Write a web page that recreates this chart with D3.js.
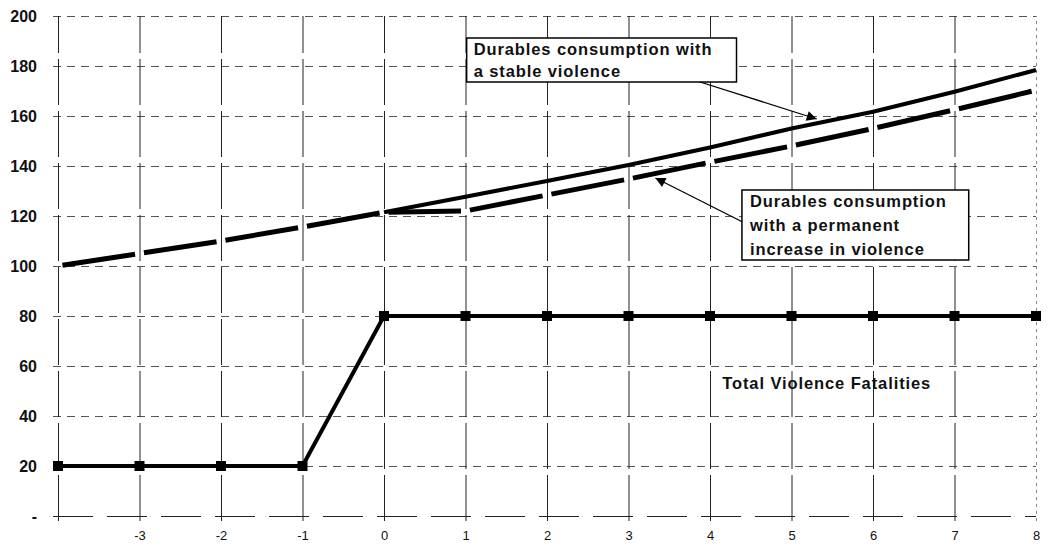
<!DOCTYPE html>
<html lang="en">
<head>
<meta charset="UTF-8">
<title>Durables consumption and violence</title>
<script src="https://d3js.org/d3.v7.min.js"></script>
<style>
    body { margin: 0; background: #fff; font-family: "Liberation Sans", Arial, sans-serif; }
    .ylab text { font-weight: bold; font-size: 16px; fill: #111; }
    .xlab text { font-size: 13px; fill: #111; }
    .note { font-weight: bold; font-size: 16.5px; letter-spacing: 0.9px; fill: #111; }
</style>
</head>
<body>
<div id="chart"></div>
<script>
// periods around the shock
const years = [-4, -3, -2, -1, 0, 1, 2, 3, 4, 5, 6, 7, 8];
// total violence fatalities
const fatalities = [20, 20, 20, 20, 80, 80, 80, 80, 80, 80, 80, 80, 80];
// durables consumption, stable violence (starts at 0)
const stable = [null, null, null, null, 121.5, 127.7, 134, 140.4, 147.4, 155, 161.7, 169.7, 178.4];
// durables consumption, permanent increase in violence
const permanent = [100, 105, 110, 115.6, 121.5, 122, 128.4, 134.8, 141.5, 148, 155, 162.5, 170.3];
const yTicks = [0, 20, 40, 60, 80, 100, 120, 140, 160, 180, 200];

// annotations, in data units
const notes = [
    { lines: ["Durables consumption with", "a stable violence"], x: 1.1, y: 184.4, step: 22, padR: 24, from: [3.84, 174], to: [5.31, 158.8] },
    { lines: ["Durables consumption", "with a permanent", "increase in violence"], x: 4.49, y: 123.6, step: 24, padR: 22, from: [4.4, 117.6], to: [3.33, 135.2] }
];
const lineLabel = { text: "Total Violence Fatalities", x: 4.15, y: 50.8 };

const W = 1055, H = 559;
const margin = { top: 16, right: 19, bottom: 43, left: 58 };

const x = d3.scaleLinear().domain([-4, 8]).range([margin.left, W - margin.right]);
const y = d3.scaleLinear().domain([0, 200]).range([H - margin.bottom, margin.top]);

const svg = d3.select("#chart").append("svg")
    .attr("width", W).attr("height", H);

// horizontal grid + y labels
svg.append("g")
    .attr("class", "ylab")
    .attr("transform", `translate(${margin.left - 5},0)`)
    .call(d3.axisLeft(y).tickValues(yTicks).tickSize(-(W - margin.left - margin.right + 5)).tickPadding(16)
        .tickFormat(d => d === 0 ? "-" : d))
    .call(g => g.select(".domain").remove())
    .call(g => g.selectAll(".tick line")
        .attr("stroke", d => d === 0 ? "#222" : "#555")
        .attr("stroke-dasharray", d => d === 0 ? "40 14" : "8 6"));

// vertical grid + x labels
svg.append("g")
    .attr("class", "xlab")
    .attr("transform", `translate(0,${H - margin.bottom + 5})`)
    .call(d3.axisBottom(x).tickValues(years).tickSize(-(H - margin.top - margin.bottom + 5)).tickPadding(10)
        .tickFormat(d => d === -4 ? "" : d))
    .call(g => g.select(".domain").remove())
    .call(g => g.selectAll(".tick line")
        .attr("stroke", d => d === 8 ? "#888" : "#222")
        .attr("stroke-dasharray", d => d === 8 ? "3 4" : "46 6"));

// permanent increase: long dashes broken at every point
const pts = years.map((t, i) => [x(t), y(permanent[i])]);
for (let i = 0; i < pts.length - 1; i++) {
    const [x0, y0] = pts[i], [x1, y1] = pts[i + 1];
    const len = Math.hypot(x1 - x0, y1 - y0);
    svg.append("line")
        .attr("x1", x0).attr("y1", y0).attr("x2", x1).attr("y2", y1)
        .attr("stroke", "#000").attr("stroke-width", 5)
        .attr("stroke-dasharray", `0 4.5 ${len - 9} 4.5`);
}

// stable violence: solid
const line = d3.line()
    .defined(d => d[1] != null)
    .x(d => x(d[0])).y(d => y(d[1]));
svg.append("path")
    .datum(years.map((t, i) => [t, stable[i]]))
    .attr("d", line)
    .attr("fill", "none").attr("stroke", "#000").attr("stroke-width", 4);

// fatalities with square markers
const fat = years.map((t, i) => [t, fatalities[i]]);
svg.append("path")
    .datum(fat)
    .attr("d", line)
    .attr("fill", "none").attr("stroke", "#000").attr("stroke-width", 4);
svg.selectAll("rect.mk")
    .data(fat)
    .join("rect")
    .attr("class", "mk")
    .attr("x", d => x(d[0]) - 5).attr("y", d => y(d[1]) - 5)
    .attr("width", 10).attr("height", 10)
    .attr("fill", "#000");

// arrows and boxed notes
svg.append("defs").append("marker")
    .attr("id", "head")
    .attr("viewBox", "0 0 10 10")
    .attr("refX", 10).attr("refY", 5)
    .attr("markerWidth", 14).attr("markerHeight", 10)
    .attr("markerUnits", "userSpaceOnUse")
    .attr("orient", "auto")
    .append("path").attr("d", "M0,0L10,5L0,10z").attr("fill", "#000");

notes.forEach(n => {
    svg.append("line")
        .attr("x1", x(n.from[0])).attr("y1", y(n.from[1]))
        .attr("x2", x(n.to[0])).attr("y2", y(n.to[1]))
        .attr("stroke", "#000").attr("stroke-width", 1.3)
        .attr("marker-end", "url(#head)");
    const g = svg.append("g");
    const box = g.append("rect").attr("fill", "#fff").attr("stroke", "#000").attr("stroke-width", 1.5);
    const t = g.append("text").attr("class", "note");
    n.lines.forEach((s, i) => {
        t.append("tspan").attr("x", x(n.x)).attr("y", y(n.y) + i * n.step).text(s);
    });
    const bb = t.node().getBBox();
    box.attr("x", bb.x - 7).attr("y", bb.y - 2)
        .attr("width", bb.width + 7 + n.padR).attr("height", bb.height + 4);
});

svg.append("text")
    .attr("class", "note")
    .attr("x", x(lineLabel.x)).attr("y", y(lineLabel.y))
    .text(lineLabel.text);
</script>
</body>
</html>
